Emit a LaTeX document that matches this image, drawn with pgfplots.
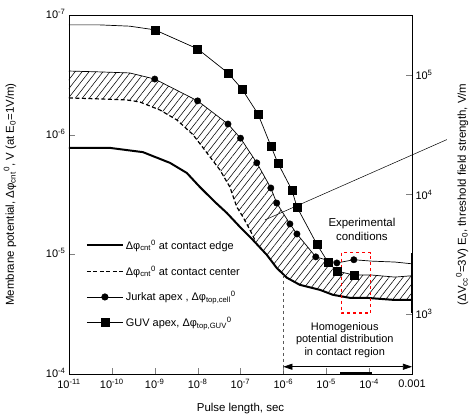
\documentclass[border=0pt]{standalone}
\usepackage{fontspec}
\setmainfont{Liberation Sans}
\usepackage{pgfplots}
\pgfplotsset{compat=1.18}
\usetikzlibrary{arrows.meta,patterns.meta}

\newcommand{\dphi}{Δφ}
\newcommand{\tk}[1]{10\textsuperscript{#1}}

\begin{document}
\begin{tikzpicture}
\useasboundingbox (-69bp,-44bp) rectangle (407bp,374bp);

% left axis: membrane potential (reversed log scale)
\begin{axis}[
    at={(0,0)}, anchor=south west,
    scale only axis,
    width=343bp, height=359bp,
    xmode=log, ymode=log,
    xmin=1e-11, xmax=1e-3,
    ymin=1e-7, ymax=1e-4,
    y dir=reverse,
    clip=false,
    axis line style={line width=0.8pt},
    tick align=inside,
    major tick length=6bp,
    minor tick style={draw=none},
    xtick pos=bottom, ytick pos=left,
    xtick={1e-11,1e-10,1e-9,1e-8,1e-7,1e-6,1e-5,1e-4,1e-3},
    xticklabels={\tk{-11},\tk{-10},\tk{-9},\tk{-8},\tk{-7},\tk{-6},\tk{-5},\tk{-4},0.001},
    ytick={1e-7,1e-6,1e-5,1e-4},
    yticklabels={\tk{-7},\tk{-6},\tk{-5},\tk{-4}},
    tick label style={font=\fontsize{11}{13}\selectfont},
    x tick label style={yshift=-2bp},
    y tick label style={yshift=1bp},
    xlabel={Pulse length, sec},
    xlabel style={font=\fontsize{11.5}{13}\selectfont, at={(axis description cs:0.5,-0.097)}, anchor=center},
    ylabel={Membrane potential, \dphi\textsubscript{cnt}\textsuperscript{0}, V (at E\textsubscript{0}=1V/m)},
    ylabel style={font=\fontsize{11.5}{13}\selectfont, at={(axis description cs:-0.172,0.5)}, anchor=center},
    legend style={draw=none, fill=none, at={(0.04,0.385)}, anchor=north west,
        font=\fontsize{11}{13}\selectfont, row sep=11bp, cells={anchor=west}},
    legend cell align=left,
    legend image code/.code={\draw[mark repeat=2,mark phase=2,#1] plot coordinates {(0bp,0bp) (18bp,0bp) (36bp,0bp)};},
]

% hatched band
\addplot[draw=none, pattern={Lines[angle=52,distance=5.5bp,line width=0.55pt]}, forget plot] coordinates {
    (1e-11,2.94e-7) (5.3e-11,2.99e-7) (2.6e-10,3.05e-7) (1e-9,3.43e-7) (1e-8,5.22e-7)
    (5.1e-8,8.15e-7) (1e-7,1.07e-6) (2.4e-7,1.72e-6) (5.1e-7,2.79e-6) (7e-7,3.73e-6)
    (1.42e-6,5.57e-6) (2.07e-6,6.76e-6) (5.7e-6,1.05e-5) (1.09e-5,1.16e-5) (1.77e-5,1.38e-5)
    (4.4e-5,1.49e-5) (1.16e-4,1.49e-5) (4e-4,1.55e-5) (1e-3,1.51e-5)
    (1e-3,2.40e-5) (3.56e-4,2.40e-5) (8.8e-5,2.31e-5) (3.55e-5,2.31e-5) (1.43e-5,2.18e-5)
    (7.1e-6,1.98e-5) (2.43e-6,1.80e-5) (1.21e-6,1.57e-5) (7e-7,1.30e-5) (4.1e-7,1.01e-5)
    (2.17e-7,7.59e-6) (1.66e-7,6.25e-6) (1.14e-7,4.87e-6) (8.2e-8,4.02e-6) (5.66e-8,2.74e-6)
    (3.31e-8,1.97e-6) (1.65e-8,1.42e-6) (7.8e-9,1e-6) (3.29e-9,7.54e-7) (1.32e-9,6.22e-7)
    (4.5e-10,5.33e-7) (2.25e-10,5.13e-7) (5.3e-11,5.03e-7) (1e-11,4.93e-7)
} -- cycle;

% contact edge
\addplot[black, line width=2pt, forget plot] coordinates {
    (1e-11,1.29e-6) (9e-11,1.29e-6) (5.3e-10,1.40e-6) (2.26e-9,1.72e-6) (5.6e-9,2.09e-6)
    (1.13e-8,2.74e-6) (2.53e-8,3.65e-6) (4.8e-8,4.51e-6) (9.7e-8,5.9e-6) (1.95e-7,7.59e-6)
    (4.1e-7,1.01e-5) (7e-7,1.30e-5) (1.21e-6,1.57e-5) (2.43e-6,1.80e-5) (7.1e-6,1.98e-5)
    (1.43e-5,2.18e-5) (3.55e-5,2.31e-5) (8.8e-5,2.31e-5) (3.56e-4,2.40e-5) (1e-3,2.40e-5)
};

% contact center
\addplot[black, line width=1.2pt, dash pattern=on 4pt off 2.5pt, forget plot] coordinates {
    (1e-11,4.93e-7) (5.3e-11,5.03e-7) (2.25e-10,5.13e-7) (4.5e-10,5.33e-7) (1.32e-9,6.22e-7)
    (3.29e-9,7.54e-7) (7.8e-9,1e-6) (1.65e-8,1.42e-6) (3.31e-8,1.97e-6) (5.66e-8,2.74e-6)
    (8.2e-8,4.02e-6) (1.14e-7,4.87e-6) (1.66e-7,6.25e-6) (2.17e-7,7.59e-6)
};

% Jurkat apex
\addplot[black, line width=0.7pt, forget plot] coordinates {
    (1e-11,2.94e-7) (5.3e-11,2.99e-7) (2.6e-10,3.05e-7) (1e-9,3.43e-7) (1e-8,5.22e-7)
    (5.1e-8,8.15e-7) (1e-7,1.07e-6) (2.4e-7,1.72e-6) (5.1e-7,2.79e-6) (7e-7,3.73e-6)
    (1.42e-6,5.57e-6) (2.07e-6,6.76e-6) (5.7e-6,1.05e-5) (1.77e-5,1.18e-5) (4.4e-5,1.11e-5)
    (1.16e-4,1.14e-5) (4e-4,1.16e-5) (1e-3,1.2e-5)
};
\addplot[only marks, mark=*, mark size=3.2bp, black, forget plot] coordinates {
    (1e-9,3.43e-7) (1e-8,5.22e-7) (5.1e-8,8.15e-7) (1e-7,1.07e-6) (2.4e-7,1.72e-6)
    (5.1e-7,2.79e-6) (7e-7,3.73e-6) (1.42e-6,5.57e-6) (2.07e-6,6.76e-6) (5.7e-6,1.05e-5)
    (1.77e-5,1.18e-5) (4.4e-5,1.11e-5)
};

% GUV apex
\addplot[black, line width=0.7pt, forget plot] coordinates {
    (1e-11,1.21e-7) (5.3e-11,1.21e-7) (2.6e-10,1.24e-7) (1e-9,1.33e-7) (1e-8,1.92e-7)
    (5.1e-8,3.05e-7) (1.08e-7,4.15e-7) (2.55e-7,6.7e-7) (5.1e-7,1.24e-6) (7.4e-7,1.72e-6)
    (1.58e-6,2.9e-6) (2.07e-6,4.02e-6) (6e-6,8.2e-6) (1.09e-5,1.16e-5) (1.77e-5,1.38e-5)
    (4.4e-5,1.49e-5) (1.16e-4,1.49e-5) (4e-4,1.55e-5) (1e-3,1.51e-5)
};
\addplot[only marks, mark=square*, mark size=4bp, black, forget plot] coordinates {
    (1e-9,1.33e-7) (1e-8,1.92e-7) (5.1e-8,3.05e-7) (1.08e-7,4.15e-7) (2.55e-7,6.7e-7)
    (5.1e-7,1.24e-6) (7.4e-7,1.72e-6) (1.58e-6,2.9e-6) (2.07e-6,4.02e-6) (6e-6,8.2e-6)
    (1.09e-5,1.16e-5) (1.77e-5,1.38e-5) (4.4e-5,1.49e-5)
};

% legend
\addlegendimage{black, line width=2pt}
\addlegendentry{\dphi\textsubscript{cnt}\textsuperscript{0} at contact edge}
\addlegendimage{black, line width=1.2pt, dash pattern=on 4pt off 2.5pt}
\addlegendentry{\dphi\textsubscript{cnt}\textsuperscript{0} at contact center}
\addlegendimage{black, line width=0.7pt, mark=*, mark size=3.2bp}
\addlegendentry{Jurkat apex , \dphi\textsubscript{top,cell}\textsuperscript{0}}
\addlegendimage{black, line width=0.7pt, mark=square*, mark size=4bp}
\addlegendentry{GUV apex, \dphi\textsubscript{top,GUV}\textsuperscript{0}}

% annotations
\draw[gray!70!black, dashed, line width=0.6pt] (axis cs:1e-6,1.49e-5) -- (axis cs:1e-6,1e-4);
\draw[{Triangle[length=9bp,width=6bp]}-{Triangle[length=9bp,width=6bp]}, line width=0.7pt]
    (axis cs:1e-6,8.7e-5) -- (axis cs:1e-3,8.7e-5);
\node[align=center, font=\fontsize{11}{12.5}\selectfont, inner sep=0pt] at (axis cs:2.7e-5,5.2e-5)
    {Homogenious\\potential distribution\\in contact region};
\node[align=center, font=\fontsize{11.5}{14}\selectfont, inner sep=0pt] at (axis cs:6.8e-5,6.2e-6)
    {Experimental\\conditions};
\draw[red, dashed, line width=1.1pt] (axis cs:2.3e-5,9.7e-6) rectangle (axis cs:1.1e-4,3.09e-5);
\draw[line width=3pt] (axis cs:1e-3,9.7e-6) -- (axis cs:1e-3,3.09e-5);
\draw[line width=3pt] (axis cs:2.1e-5,1e-4) -- (axis cs:1.15e-4,1e-4);
\draw[line width=0.5pt] (axis cs:3.7e-7,5.16e-6) -- (axis cs:6.5e-3,1.1e-6);
\end{axis}

% right axis: field strength
\begin{axis}[
    at={(0,0)}, anchor=south west,
    scale only axis,
    width=343bp, height=359bp,
    xmode=log, ymode=log,
    xmin=1e-11, xmax=1e-3,
    ymin=316.23, ymax=316228,
    hide x axis,
    axis y line*=right,
    axis line style={line width=0.8pt},
    tick align=inside,
    major tick length=6bp,
    minor tick style={draw=none},
    ytick={1e3,1e4,1e5},
    yticklabels={\tk{3},\tk{4},\tk{5}},
    tick label style={font=\fontsize{11}{13}\selectfont},
    ylabel={(ΔV\textsubscript{cc}\textsuperscript{0}=3V) E\textsubscript{0}, threshold field strength, V/m},
    ylabel style={font=\fontsize{11.5}{13}\selectfont, at={(axis description cs:1.146,0.5)}, anchor=center},
]
\addplot[draw=none, forget plot] coordinates {(1e-11,1e3) (1e-3,1e5)};
\end{axis}
\end{tikzpicture}
\end{document}
